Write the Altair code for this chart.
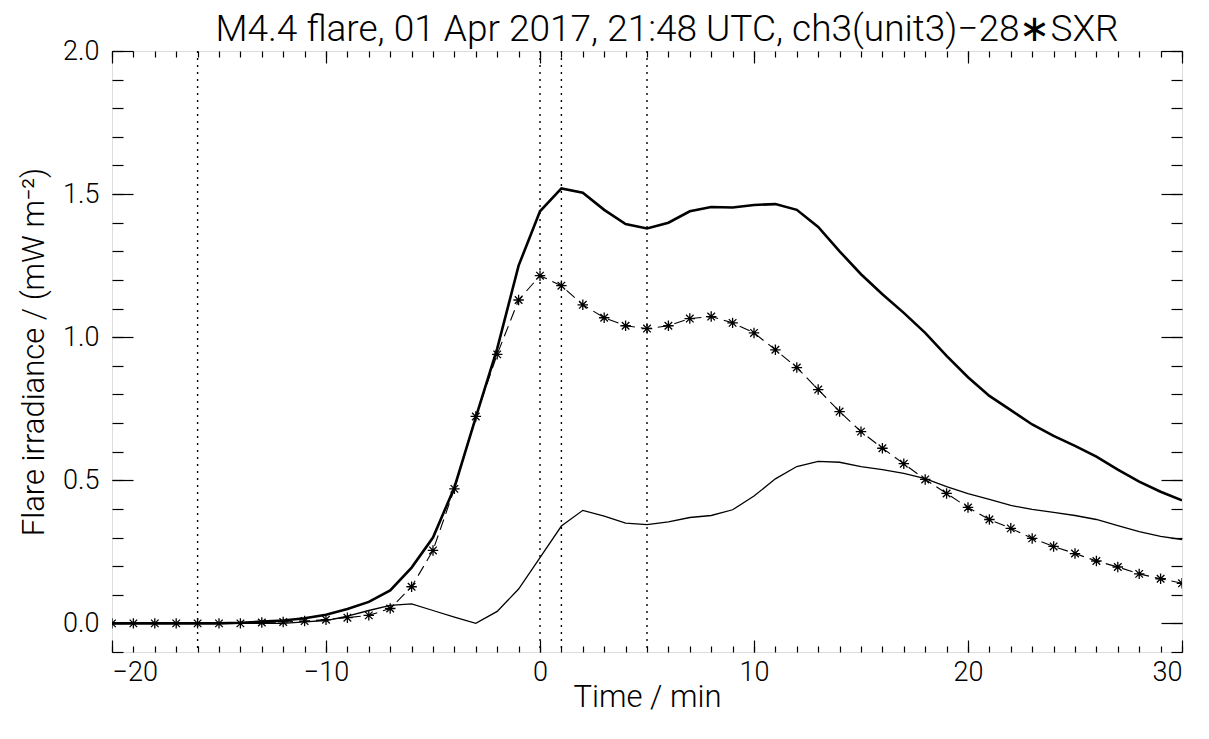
import altair as alt
import pandas as pd

FONT = "Roboto"

time_min = list(range(-20, 31))

total_irr = [0.0, 0.0, 0.0, 0.0, 0.0, 0.0, 0.002, 0.006, 0.01, 0.018,
             0.03, 0.05, 0.075, 0.115, 0.195, 0.30, 0.475, 0.72, 0.96, 1.25,
             1.44, 1.52, 1.505, 1.445, 1.395, 1.38, 1.40, 1.44, 1.455, 1.453,
             1.462, 1.465, 1.445, 1.385, 1.30, 1.22, 1.15, 1.085, 1.015, 0.935,
             0.86, 0.795, 0.745, 0.695, 0.655, 0.62, 0.583, 0.537, 0.495, 0.46,
             0.43]

ch3_irr = [0.0, 0.0, 0.0, 0.0, 0.0, 0.0, 0.0, 0.0, 0.0, 0.005,
           0.01, 0.025, 0.045, 0.063, 0.068, 0.045, 0.022, 0.0, 0.042, 0.12,
           0.23, 0.34, 0.395, 0.375, 0.35, 0.345, 0.355, 0.37, 0.377, 0.397,
           0.445, 0.505, 0.548, 0.566, 0.563, 0.548, 0.537, 0.524, 0.506, 0.478,
           0.453, 0.433, 0.412, 0.398, 0.388, 0.377, 0.363, 0.342, 0.321, 0.304,
           0.293]

sxr_irr = [0.0, 0.0, 0.0, 0.0, 0.0, 0.0, 0.0, 0.003, 0.005, 0.008,
           0.013, 0.02, 0.028, 0.052, 0.128, 0.255, 0.47, 0.723, 0.94, 1.13,
           1.215, 1.18, 1.113, 1.068, 1.04, 1.03, 1.04, 1.065, 1.072, 1.05,
           1.015, 0.956, 0.894, 0.817, 0.74, 0.67, 0.612, 0.558, 0.503, 0.454,
           0.405, 0.363, 0.332, 0.297, 0.269, 0.244, 0.218, 0.197, 0.173, 0.156,
           0.14]

event_times = [-16, 0, 1, 5]

x_major = [-20, -10, 0, 10, 20, 30]
x_minor = [-20, -19, -18, -17, -16, -15, -14, -13, -12, -11, -10, -9, -8, -7, -6,
           -5, -4, -3, -2, -1, 0, 1, 2, 3, 4, 5, 6, 7, 8, 9, 10, 11, 12, 13, 14,
           15, 16, 17, 18, 19, 20, 21, 22, 23, 24, 25, 26, 27, 28, 29, 30]
y_major = [0.0, 0.5, 1.0, 1.5, 2.0]
y_minor = [-0.1, 0.0, 0.1, 0.2, 0.3, 0.4, 0.5, 0.6, 0.7, 0.8, 0.9, 1.0, 1.1,
           1.2, 1.3, 1.4, 1.5, 1.6, 1.7, 1.8, 1.9, 2.0]

title_text = "M4.4 flare, 01 Apr 2017, 21:48 UTC, ch3(unit3)\u221228\u2217SXR"
x_title = "Time / min"
y_title = "Flare irradiance / (mW m\u207b\u00b2)"

df_total = pd.DataFrame({"t": time_min, "v": total_irr})
df_ch3 = pd.DataFrame({"t": time_min, "v": ch3_irr})
df_sxr = pd.DataFrame({"t": time_min, "v": sxr_irr})
df_ev = pd.DataFrame({"t": event_times})

xs = alt.Scale(domain=[-20, 30], nice=False, zero=False)
ys = alt.Scale(domain=[-0.1, 2.0], nice=False, zero=False)

XMAJ, XMIN, YMAJ, YMIN = 12, 6, 21, 11


def ax(orient, values, size, labels=False, title=None, fmt=None, **kw):
    args = dict(orient=orient, values=values, tickSize=size, offset=-size,
                domain=False, grid=False, labels=labels, tickColor="black",
                tickWidth=1.2,
                labelFont=FONT, labelFontSize=27, labelColor="black",
                labelFontWeight=300,
                titleFont=FONT, titleFontSize=31, titleColor="black",
                titleFontWeight=300)
    args["title"] = title if title is not None else None
    if fmt is not None:
        args["format"] = fmt
    args.update(kw)
    return alt.Axis(**args)


thick = alt.Chart(df_total).mark_line(color="black", strokeWidth=2.6, clip=True).encode(
    x=alt.X("t:Q", scale=xs,
            axis=ax("bottom", x_major, XMAJ, labels=True, title=x_title, fmt="d",
                    labelPadding=7, titlePadding=-3)),
    y=alt.Y("v:Q", scale=ys,
            axis=ax("left", y_major, YMAJ, labels=True, title=y_title, fmt=".1f",
                    labelPadding=13, titlePadding=12)),
)

thin = alt.Chart(df_ch3).mark_line(color="black", strokeWidth=1.3, clip=True).encode(
    x=alt.X("t:Q", scale=xs, axis=ax("bottom", x_minor, XMIN)),
    y=alt.Y("v:Q", scale=ys, axis=ax("left", y_minor, YMIN)),
)

dashed = alt.Chart(df_sxr).mark_line(color="black", strokeWidth=1.1, strokeDash=[11, 6],
                                      clip=True).encode(
    x=alt.X("t:Q", scale=xs, axis=ax("top", x_major, XMAJ)),
    y=alt.Y("v:Q", scale=ys, axis=ax("right", y_major, YMAJ)),
)

ASTERISK = "M-1,0L1,0M0,-1L0,1M-0.72,-0.72L0.72,0.72M-0.72,0.72L0.72,-0.72"
stars = alt.Chart(df_sxr).mark_point(shape=ASTERISK, size=110, filled=False, stroke="black",
                                     strokeWidth=1.3, opacity=1, clip=True).encode(
    x=alt.X("t:Q", scale=xs, axis=ax("top", x_minor, XMIN)),
    y=alt.Y("v:Q", scale=ys, axis=ax("right", y_minor, YMIN)),
)

rules = alt.Chart(df_ev).mark_rule(color="black", strokeWidth=1.4, strokeDash=[2, 5]).encode(
    x=alt.X("t:Q", scale=xs, axis=None),
)

chart = alt.layer(rules, thick, thin, dashed, stars).resolve_axis(
    x="independent", y="independent"
).properties(
    width=1070,
    height=601,
    autosize=alt.AutoSizeParams(type="none"),
    padding={"left": 104, "top": 43, "right": 19, "bottom": 79},
    title=alt.TitleParams(text=title_text, font=FONT, fontSize=37, fontWeight=300,
                          color="black", anchor="middle", dx=20, offset=-12),
).configure_view(
    stroke="black", strokeWidth=1.3
).configure(background="white")

chart.save("out.html", embed_options={"renderer": "svg", "actions": False})
